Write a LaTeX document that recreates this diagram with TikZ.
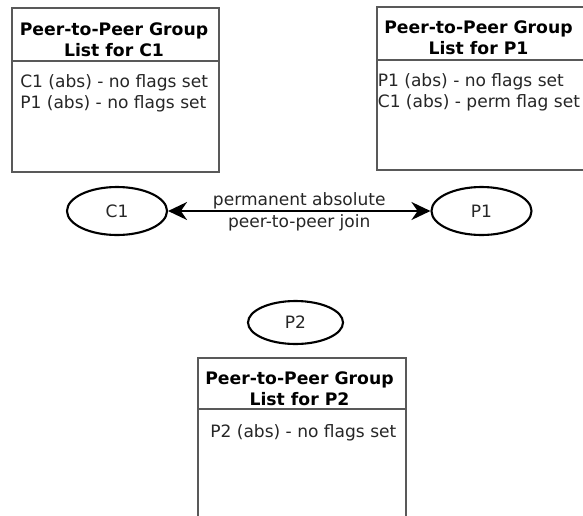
\documentclass[tikz,border=0pt]{standalone}
\usepackage{fontspec}
\setmainfont{DejaVu Sans}
\usetikzlibrary{shapes.geometric, arrows.meta, positioning}

\begin{document}
\begin{tikzpicture}[
  >={Stealth[length=0.38cm, width=0.36cm]},
  peer/.style={ellipse, draw=black, line width=1.2pt, minimum width=2.0cm, minimum height=0.96cm, inner sep=0pt, text=black!85, font=\fontsize{9.7}{12}\selectfont},
  listbox/.style={draw=black!65, line width=0.7pt},
  listhead/.style={inner sep=0pt, anchor=base, font=\fontsize{9.8}{12}\selectfont\bfseries},
  listitem/.style={inner sep=0pt, anchor=base west, text=black!85, font=\fontsize{9.7}{12}\selectfont},
  joinlabel/.style={inner sep=1.5pt, text=black!85, font=\fontsize{9.7}{12}\selectfont}
]
\useasboundingbox (0,0) rectangle (11.66,-10.30);
% Lista del grupo para C1
\draw[listbox] (0.24,-0.16) rectangle (4.38,-3.44);
\draw[listbox] (0.24,-1.22) -- (4.38,-1.22);
\node[listhead] (c1heada) at (2.28,-0.70) {Peer-to-Peer Group};
\node[listhead] (c1headb) at (2.28,-1.12) {List for C1};
\node[listitem] (c1itema) at (0.40,-1.74) {C1 (abs) - no flags set};
\node[listitem] (c1itemb) at (0.40,-2.16) {P1 (abs) - no flags set};
% Lista del grupo para P1 (sale por la derecha)
\draw[listbox] (7.54,-0.14) rectangle (11.72,-3.40);
\draw[listbox] (7.54,-1.20) -- (11.72,-1.20);
\node[listhead] (p1heada) at (9.57,-0.66) {Peer-to-Peer Group};
\node[listhead] (p1headb) at (9.57,-1.08) {List for P1};
\node[listitem] (p1itema) at (7.55,-1.72) {P1 (abs) - no flags set};
\node[listitem] (p1itemb) at (7.55,-2.14) {C1 (abs) - perm flag set};
% Nodos C1 y P1 con la union permanente
\node[peer] (c1) at (2.34,-4.22) {C1};
\node[peer] (p1) at (9.63,-4.22) {P1};
\draw[<->, line width=1.2pt] (c1) -- (p1)
  node[joinlabel, midway, above, inner sep=0.6pt] (joina) {permanent absolute}
  node[joinlabel, midway, below] (joinb) {peer-to-peer join};
% Nodo P2 y su lista
\node[peer, minimum width=1.9cm, minimum height=0.86cm] (p2) at (5.91,-6.45) {P2};
\draw[listbox] (3.96,-7.16) rectangle (8.12,-10.60);
\draw[listbox] (3.96,-8.18) -- (8.12,-8.18);
\node[listhead] (p2heada) at (5.99,-7.68) {Peer-to-Peer Group};
\node[listhead] (p2headb) at (5.99,-8.10) {List for P2};
\node[listitem] (p2itema) at (4.20,-8.74) {P2 (abs) - no flags set};
\end{tikzpicture}
\end{document}
